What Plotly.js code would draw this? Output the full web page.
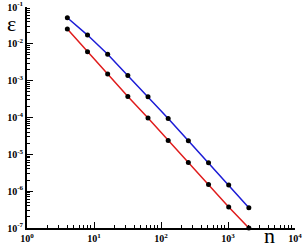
<!DOCTYPE html>
<html>
<head>
<meta charset="utf-8">
<script src="https://cdn.plot.ly/plotly-3.0.1.min.js"></script>
<style>html,body{margin:0;padding:0;background:#fff;}#chart{width:305px;height:251px;}</style>
</head>
<body>
<div id="chart"></div>
<script>
// Data
var nValues = [4, 8, 16, 32, 64, 128, 256, 512, 1024, 2048];
var errorBlue = [5.11e-2, 1.73e-2, 5.19e-3, 1.39e-3, 3.66e-4, 9.46e-5, 2.33e-5, 5.88e-6, 1.48e-6, 3.52e-7];
var errorRed  = [2.52e-2, 6.10e-3, 1.51e-3, 3.74e-4, 9.64e-5, 2.39e-5, 6.03e-6, 1.52e-6, 3.74e-7, 1.0e-7];
var xTickVals = [1, 10, 100, 1000, 10000];
var xTickText = ['10<sup>0</sup>', '10<sup>1</sup>', '10<sup>2</sup>', '10<sup>3</sup>', '10<sup>4</sup>'];
var yTickVals = [1e-1, 1e-2, 1e-3, 1e-4, 1e-5, 1e-6, 1e-7];
var yTickText = ['10<sup>-1</sup>', '10<sup>-2</sup>', '10<sup>-3</sup>', '10<sup>-4</sup>', '10<sup>-5</sup>', '10<sup>-6</sup>', '10<sup>-7</sup>'];

function minorVals(lo, hi) {
  var out = [];
  for (var e = lo; e < hi; e++) {
    for (var m = 2; m <= 9; m++) out.push(m * Math.pow(10, e));
  }
  return out;
}

var traces = [
  {x: nValues, y: errorBlue, mode: 'lines+markers', type: 'scatter',
   line: {color: '#1c1cd6', width: 1.5}, marker: {color: '#000', size: 5}, cliponaxis: false},
  {x: nValues, y: errorRed, mode: 'lines+markers', type: 'scatter',
   line: {color: '#e01c1c', width: 1.5}, marker: {color: '#000', size: 5}, cliponaxis: false}
];

var tickFont = {family: 'Liberation Serif', size: 10, color: '#000', weight: 'bold'};

var layout = {
  width: 305, height: 251,
  margin: {l: 27, r: 10, t: 7, b: 23},
  paper_bgcolor: '#fff', plot_bgcolor: '#fff',
  showlegend: false,
  xaxis: {
    type: 'log', range: [0, 4], showgrid: false, zeroline: false,
    showline: true, linecolor: '#000', linewidth: 2,
    ticks: 'inside', ticklen: 6, tickwidth: 1, tickcolor: '#000',
    tickmode: 'array', tickvals: xTickVals, ticktext: xTickText,
    tickfont: tickFont,
    minor: {tickmode: 'array', tickvals: minorVals(0, 4), ticks: 'inside', ticklen: 3, tickcolor: '#000', showgrid: false}
  },
  yaxis: {
    type: 'log', range: [-7, -1], showgrid: false, zeroline: false,
    showline: true, linecolor: '#000', linewidth: 2,
    ticks: 'inside', ticklen: 6, tickwidth: 1, tickcolor: '#000',
    tickmode: 'array', tickvals: yTickVals, ticktext: yTickText,
    tickfont: tickFont,
    minor: {tickmode: 'array', tickvals: minorVals(-7, -1), ticks: 'inside', ticklen: 3, tickcolor: '#000', showgrid: false}
  },
  annotations: [
    {text: 'ε', xref: 'paper', yref: 'paper', x: -0.056, y: 0.925, showarrow: false,
     font: {family: 'Liberation Serif', size: 22, color: '#000'}, xanchor: 'center', yanchor: 'middle'},
    {text: 'n', xref: 'paper', yref: 'paper', x: 0.903, y: -0.034, showarrow: false,
     font: {family: 'Liberation Serif', size: 22, color: '#000'}, xanchor: 'center', yanchor: 'middle'}
  ]
};

Plotly.newPlot('chart', traces, layout, {displayModeBar: false, staticPlot: true});
</script>
</body>
</html>
